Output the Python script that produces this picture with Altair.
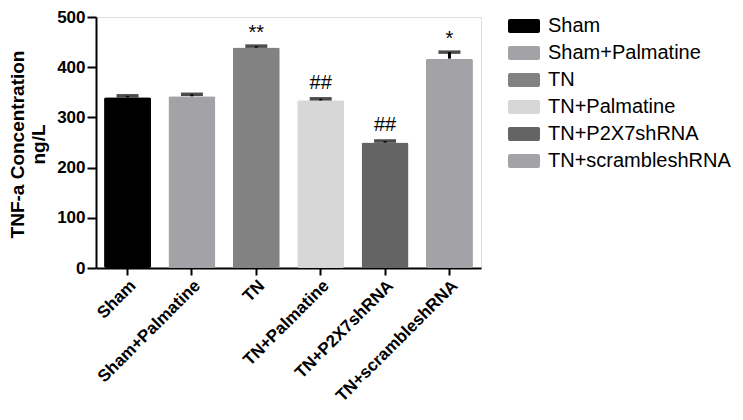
import altair as alt
import pandas as pd

groups = ["Sham", "Sham+Palmatine", "TN", "TN+Palmatine", "TN+P2X7shRNA", "TN+scrambleshRNA"]
means = [340, 342, 439, 334, 250, 417]
errors = [3, 4, 3, 3, 3, 13]
marks = ["", "", "**", "##", "##", "*"]
colors = ["#000000", "#a3a3a7", "#828282", "#d7d7d7", "#646464", "#a3a3a7"]
y_ticks = [0, 100, 200, 300, 400, 500]

df = pd.DataFrame({"group": groups, "mean": means, "err": errors, "mark": marks})
df["top"] = df["mean"] + df["err"]

FONT = "Liberation Sans"

x_enc = alt.X("group:N", sort=groups, title=None,
              scale=alt.Scale(paddingInner=0.27, paddingOuter=0.125),
              axis=alt.Axis(labelAngle=-45, labelFontSize=17, labelFontWeight="bold",
                            labelFont=FONT, labelColor="black", labelPadding=2,
                            tickSize=7, tickWidth=2, tickColor="black",
                            domainWidth=2, domainColor="black", labelLimit=300))
y_scale = alt.Scale(domain=[0, 500], nice=False)

base = alt.Chart(df)

bars = base.mark_bar(cornerRadius=2).encode(
    x=x_enc,
    y=alt.Y("mean:Q", scale=y_scale,
            title=["TNF-a Concentration", "ng/L"],
            axis=alt.Axis(values=y_ticks, labelFontSize=17, labelFontWeight="bold",
                          labelFont=FONT, labelColor="black", labelPadding=2,
                          tickSize=9, tickWidth=2, tickColor="black",
                          domainWidth=2, domainColor="black", grid=False,
                          titleFont=FONT, titleFontSize=19, titleFontWeight="bold",
                          titleColor="black", titleAngle=-90, titleAlign="center",
                          titleBaseline="top", titleX=-88, titleY=127, titleLineHeight=21)),
    color=alt.Color("group:N", sort=groups,
                    scale=alt.Scale(domain=groups, range=colors),
                    legend=alt.Legend(title=None, orient="none", legendX=418, legendY=-1,
                                      padding=0,
                                      symbolType="M-1.4,-0.7H1.4Q1.6,-0.7 1.6,-0.5V0.5Q1.6,0.7 1.4,0.7H-1.4Q-1.6,0.7 -1.6,0.5V-0.5Q-1.6,-0.7 -1.4,-0.7Z",
                                      symbolSize=400, symbolStrokeWidth=0,
                                      labelFont=FONT, labelFontSize=20, labelColor="black",
                                      labelOffset=14, rowPadding=7, labelLimit=300)),
)

stems = base.mark_rule(color="black", strokeWidth=3).encode(
    x=alt.X("group:N", sort=groups),
    y=alt.Y("mean:Q", scale=y_scale),
    y2="top:Q",
)

caps = base.mark_tick(color="black", thickness=3.5, size=22).encode(
    x=alt.X("group:N", sort=groups),
    y=alt.Y("top:Q", scale=y_scale),
)

stars = base.transform_filter("datum.mark == '*' || datum.mark == '**'").mark_text(
    font=FONT, fontSize=20, color="black", baseline="alphabetic", dy=-7
).encode(x=alt.X("group:N", sort=groups), y=alt.Y("top:Q", scale=y_scale), text="mark:N")

hashes = base.transform_filter("datum.mark == '##'").mark_text(
    font=FONT, fontSize=20, color="black", baseline="alphabetic", dy=-10
).encode(x=alt.X("group:N", sort=groups), y=alt.Y("top:Q", scale=y_scale), text="mark:N")

chart = alt.layer(bars, stems, caps, stars, hashes).properties(
    width=385, height=251,
    autosize=alt.AutoSizeParams(type="none"),
    padding={"left": 88, "top": 9, "right": 254, "bottom": 144},
).configure_view(stroke=None).configure(background="white")

chart.save("out.html", embed_options={"renderer": "svg", "actions": False})
